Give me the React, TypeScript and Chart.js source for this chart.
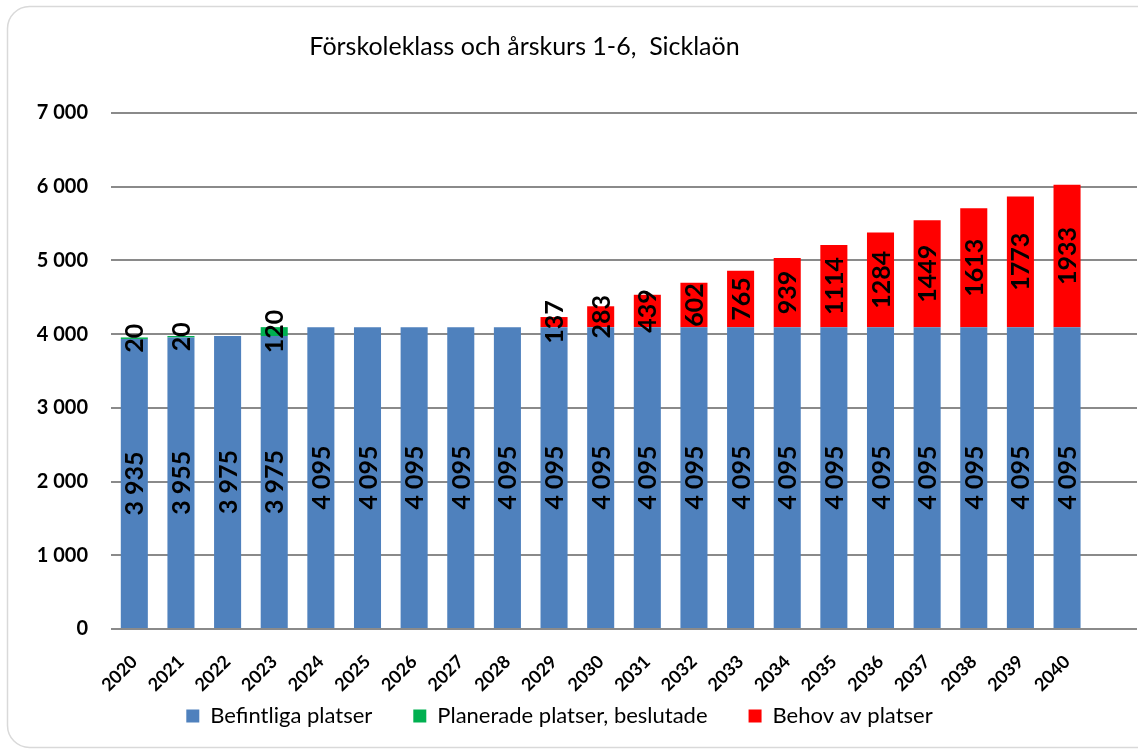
import React, { useEffect, useRef } from "react";
import { Chart, registerables } from "chart.js";

Chart.register(...registerables);

const years = [
  "2020", "2021", "2022", "2023", "2024", "2025", "2026", "2027", "2028", "2029", "2030",
  "2031", "2032", "2033", "2034", "2035", "2036", "2037", "2038", "2039", "2040", "",
];
const befintliga = [
  3935, 3955, 3975, 3975, 4095, 4095, 4095, 4095, 4095, 4095, 4095,
  4095, 4095, 4095, 4095, 4095, 4095, 4095, 4095, 4095, 4095, null,
];
const planerade = [
  20, 20, 0, 120, 0, 0, 0, 0, 0, 0, 0,
  0, 0, 0, 0, 0, 0, 0, 0, 0, 0, null,
];
const behov = [
  0, 0, 0, 0, 0, 0, 0, 0, 0, 137, 283,
  439, 602, 765, 939, 1114, 1284, 1449, 1613, 1773, 1933, null,
];
const yTicks = [0, 1000, 2000, 3000, 4000, 5000, 6000, 7000];

const FONT = "Lato, 'Noto Sans', sans-serif";

const fmtSpace = (v: number) =>
  String(Math.round(v)).replace(/\B(?=(\d{3})+(?!\d))/g, " ");

const cardPlugin = {
  id: "card",
  beforeDraw(chart: any) {
    const ctx = chart.ctx;
    ctx.save();
    ctx.strokeStyle = "#d9d9d9";
    ctx.lineWidth = 1.5;
    ctx.beginPath();
    ctx.roundRect(7.5, 6.5, 1160, 741, 22);
    ctx.stroke();
    ctx.restore();
  },
};

const labelPlugin = {
  id: "barLabels",
  afterDatasetsDraw(chart: any) {
    const ctx = chart.ctx;
    chart.data.datasets.forEach((ds: any, di: number) => {
      const meta = chart.getDatasetMeta(di);
      meta.data.forEach((el: any, i: number) => {
        const v = ds.data[i];
        if (!v) return;
        const text = di === 0 ? fmtSpace(v) : String(v);
        const cy = (el.y + el.base) / 2;
        ctx.save();
        ctx.translate(el.x, cy);
        ctx.rotate(-Math.PI / 2);
        ctx.font = `bold 25px ${FONT}`;
        ctx.fillStyle = "#000";
        ctx.textAlign = "center";
        ctx.textBaseline = "middle";
        ctx.fillText(text, 0, 1);
        ctx.restore();
      });
    });
  },
};

const layoutTweak = {
  id: "layoutTweak",
  afterLayout(chart: any) {
    if (chart.legend) {
      chart.legend.left -= 9;
      chart.legend.right -= 9;
    }
    if (chart.titleBlock) {
      chart.titleBlock.left -= 44;
      chart.titleBlock.right -= 44;
    }
    const x = chart.scales.x;
    if (x) x.bottom += 60;
  },
};

export default function App() {
  const ref = useRef<HTMLCanvasElement | null>(null);
  useEffect(() => {
    document.body.style.margin = "0";
    if (!ref.current) return;
    const chart = new Chart(ref.current, {
      type: "bar",
      data: {
        labels: years,
        datasets: [
          { label: "Befintliga platser", data: befintliga, backgroundColor: "#4f81bd", borderWidth: 0 },
          { label: "Planerade platser, beslutade", data: planerade, backgroundColor: "#00b050", borderWidth: 0 },
          { label: "Behov av platser", data: behov, backgroundColor: "#ff0000", borderWidth: 0 },
        ],
      },
      options: {
        responsive: false,
        animation: false,
        devicePixelRatio: 1,
        layout: { padding: { top: 0, left: 0, right: 1, bottom: 14 } },
        datasets: { bar: { barPercentage: 0.58, categoryPercentage: 1 } },
        plugins: {
          title: {
            display: true,
            text: "Förskoleklass och årskurs 1-6,  Sicklaön",
            color: "#000",
            font: { family: FONT, size: 25, weight: "normal", lineHeight: 1.2 },
            padding: { top: 32, bottom: 51 },
          },
          legend: {
            position: "bottom",
            labels: {
              color: "#000",
              font: { family: FONT, size: 22 },
              boxWidth: 13,
              boxHeight: 13,
              padding: 41,
            },
          },
          tooltip: { enabled: false },
        },
        scales: {
          x: {
            stacked: true,
            grid: { display: false },
            border: { display: false },
            ticks: {
              color: "#000",
              font: { family: FONT, size: 18, weight: "bold" },
              maxRotation: 45,
              minRotation: 45,
              autoSkip: false,
              padding: 14,
            },
            afterFit(scale: any) {
              scale.height = 35;
              scale.paddingLeft = 0;
              scale.paddingRight = 0;
            },
          },
          y: {
            stacked: true,
            min: 0,
            max: 7000,
            afterBuildTicks(scale: any) {
              scale.ticks = yTicks.map((v) => ({ value: v }));
            },
            grid: { color: "#8a8a8a", lineWidth: 2, drawTicks: false },
            border: { display: false },
            ticks: {
              color: "#000",
              font: { family: FONT, size: 20, weight: "bold" },
              padding: 23,
              callback: (v: any) => fmtSpace(Number(v)),
            },
            afterFit(scale: any) {
              scale.width = 111;
              scale.paddingTop = 0;
              scale.paddingBottom = 0;
            },
          },
        },
      },
      plugins: [cardPlugin, labelPlugin, layoutTweak],
    });
    return () => chart.destroy();
  }, []);
  return <canvas ref={ref} width={1138} height={751} style={{ display: "block" }} />;
}
